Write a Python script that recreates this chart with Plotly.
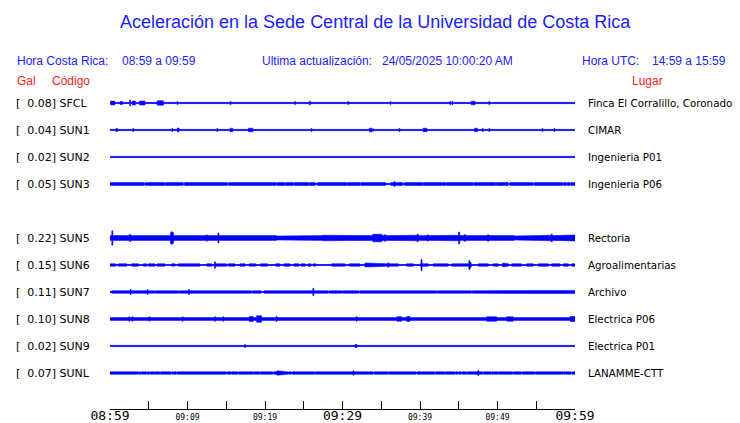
import numpy as np
import plotly.graph_objects as go

# ---------------- data ----------------
TITLE = "Aceleración en la Sede Central de la Universidad de Costa Rica"
CODES = ["SFCL", "SUN1", "SUN2", "SUN3", "SUN5", "SUN6", "SUN7", "SUN8", "SUN9", "SUNL"]
GAL = [0.08, 0.04, 0.02, 0.05, 0.22, 0.15, 0.11, 0.10, 0.02, 0.07]
PLACES = ["Finca El Corralillo, Coronado", "CIMAR", "Ingenieria P01", "Ingenieria P06",
          "Rectoria", "Agroalimentarias", "Archivo", "Electrica P06", "Electrica P01", "LANAMME-CTT"]
ROW_SLOT = [0, 1, 2, 3, 5, 6, 7, 8, 9, 10]

TICK_MINUTES = [0, 5, 10, 15, 20, 25, 30, 35, 40, 45, 50, 55, 60]
TICK_LABELS = ["08:59", "", "09:09", "", "09:19", "", "09:29", "", "09:39", "", "09:49", "", "09:59"]
BIG_TICKS = ["08:59", "09:29", "09:59"]

# background half-amplitude of each trace (px)
BASE = [0.6, 0.6, 0.6, 1.6, 2.4, 0.5, 1.3, 1.4, 0.6, 1.3]

# envelope segments: (start min, end min, half amplitude)
SFCL_SEG = [(0.1, 0.6, 2.0), (1.3, 1.6, 1.5), (2.9, 3.3, 2.0), (3.8, 4.5, 2.0), (6.1, 6.9, 2.2),
            (25.7, 25.9, 1.8), (46.6, 47.1, 1.8)]
SFCL_SPK = [(2.6, 3.0), (3.45, 1.2), (4.85, 1.0), (7.1, 1.3), (7.55, 1.3), (8.7, 1.5), (15.55, 1.5),
            (23.9, 1.5), (26.75, 1.0), (30.75, 1.5), (35.15, 1.0), (36.2, 1.5), (43.9, 1.5),
            (44.2, 1.5), (47.35, 1.0), (48.2, 1.0), (48.95, 1.5)]

SUN1_SEG = [(0.75, 1.0, 1.5), (8.7, 8.9, 2.0), (15.5, 15.85, 1.8), (17.85, 18.45, 1.8),
            (33.45, 33.8, 1.8), (40.4, 40.9, 1.8), (47.05, 47.4, 1.8)]
SUN1_SPK = [(0.13, 1.3), (1.6, 1.0), (2.25, 1.2), (3.0, 1.5), (8.05, 1.5), (12.45, 1.0),
            (13.45, 1.0), (13.85, 1.5), (16.7, 1.0), (21.35, 1.0), (25.6, 1.0), (26.0, 1.5),
            (33.9, 1.5), (37.35, 1.5), (48.1, 1.5), (48.95, 1.5), (55.8, 1.5), (56.2, 1.0), (57.35, 1.5)]

SUN2_SEG = [(0.72, 0.8, 1.3), (1.0, 1.08, 1.3)]
SUN2_SPK = []

SUN3_SEG = [(4.4, 4.5, 0.5), (7.05, 7.15, 0.5), (9.45, 9.6, 0.5), (15.15, 15.3, 0.5),
            (21.45, 21.55, 0.5), (22.55, 22.65, 0.5), (23.65, 23.75, 0.5), (25.65, 25.75, 0.5),
            (26.5, 26.75, 0.5), (30.55, 30.65, 0.5), (32.25, 32.35, 0.5), (35.6, 36.2, 0.5),
            (37.8, 38.0, 0.5), (40.35, 40.45, 0.5), (43.35, 43.45, 0.5), (46.85, 46.95, 0.5),
            (49.75, 49.85, 0.5), (51.4, 51.6, 0.5), (54.6, 54.7, 0.5), (58.45, 58.55, 0.5),
            (58.9, 59.0, 0.5), (59.4, 59.5, 0.5)]
SUN3_SPK = [(12.35, 2.2), (17.9, 2.2), (36.7, 2.5)]

SUN5_SEG = [(2.5, 2.7, 3.4), (6.3, 7.0, 3.0), (7.8, 8.2, 5.5), (8.6, 11.0, 3.0), (17.2, 18.3, 3.0),
            (20.4, 20.9, 3.0), (21.5, 25.1, 2.0), (25.2, 27.3, 1.7), (27.5, 28.0, 2.8),
            (29.5, 33.7, 2.3), (33.9, 35.1, 3.8), (35.4, 35.6, 3.2), (36.7, 39.8, 2.8),
            (42.3, 45.0, 2.8), (45.7, 45.9, 3.2), (48.7, 48.9, 3.2), (52.2, 54.8, 2.1),
            (55.2, 57.0, 2.8), (58.7, 60.0, 3.0)]
SUN5_SPK = [(0.3, 7.3), (7.95, 6.3), (13.98, 5.0), (39.7, 4.0), (45.05, 6.0), (57.0, 4.0), (1.5, 3.0),
            (4.6, 3.0), (12.5, 3.2), (16.0, 3.0), (41.0, 3.2), (50.8, 3.0), (34.3, 4.5)]

SUN6_SEG = [(0.0, 0.73, 1.3), (1.08, 2.15, 1.3), (2.8, 3.66, 1.3), (4.3, 4.73, 1.3), (4.95, 5.8, 1.3),
            (6.1, 7.1, 1.3), (7.96, 8.39, 1.3), (8.82, 11.6, 1.3), (12.47, 13.12, 1.3),
            (13.55, 15.05, 1.3), (15.27, 16.13, 1.3), (16.77, 17.42, 1.3), (17.98, 18.8, 1.3),
            (19.44, 20.3, 1.3), (21.38, 21.94, 1.3), (22.45, 23.23, 1.3), (23.74, 24.39, 1.3),
            (24.65, 25.16, 1.3), (25.59, 25.94, 1.3), (26.24, 26.54, 1.3), (28.6, 30.32, 1.3),
            (30.88, 32.26, 1.3), (32.9, 37.2, 1.3), (38.28, 39.14, 1.3), (40.0, 41.08, 1.3),
            (41.72, 43.66, 1.3), (44.09, 46.24, 1.3), (47.53, 48.82, 1.3), (49.46, 50.11, 1.3),
            (50.75, 51.4, 1.3), (51.83, 53.12, 1.3), (53.76, 54.62, 1.3), (55.27, 56.56, 1.3),
            (56.99, 58.06, 1.3), (58.49, 59.14, 1.3), (59.57, 60.0, 1.3), (32.9, 33.4, 2.0),
            (46.3, 46.6, 2.5)]
SUN6_SPK = [(13.55, 3.3), (40.2, 5.7), (46.37, 4.5), (35.9, 2.3), (50.75, 2.0), (27.3, 1.0), (27.7, 1.0)]

SUN7_SEG = [(0.0, 0.2, 0.5), (5.75, 5.85, 0.5), (8.85, 8.95, 0.5), (18.25, 18.4, 0.5),
            (19.5, 19.9, 0.5), (28.15, 28.25, 0.5), (29.95, 30.05, 0.5), (32.15, 32.25, 0.5),
            (42.15, 42.25, 0.5), (46.65, 46.75, 0.5), (50.5, 60.0, 1.6)]
SUN7_SPK = [(2.67, 2.7), (4.86, 2.5), (10.19, 2.5), (14.19, 1.8), (26.24, 3.8), (33.76, 2.0),
            (35.83, 2.0), (41.42, 2.0), (43.87, 1.8), (48.73, 1.8), (55.05, 1.7), (56.77, 1.7)]

SUN8_SEG = [(17.98, 18.49, 2.5), (18.92, 19.57, 3.3), (36.99, 37.63, 2.3), (38.28, 38.71, 2.5),
            (48.17, 48.4, 2.0), (48.6, 49.89, 2.3), (51.18, 52.04, 2.3), (59.35, 60.0, 2.5)]
SUN8_SPK = [(0.22, 2.0), (1.16, 2.0), (2.45, 2.3), (2.88, 2.3), (3.31, 2.0), (5.08, 2.3), (8.17, 2.0),
            (9.38, 2.3), (10.97, 2.0), (11.4, 2.0), (12.26, 2.0), (12.69, 2.0), (13.55, 2.3),
            (13.98, 2.0), (14.62, 2.3), (15.14, 2.0), (20.22, 2.0), (21.5, 2.5), (22.15, 2.0),
            (23.96, 2.0), (27.31, 2.0), (28.17, 2.0), (28.6, 2.0), (31.83, 2.3), (35.4, 2.0),
            (36.13, 2.0), (39.66, 2.0), (40.65, 2.0), (41.08, 2.0), (41.51, 2.0), (41.94, 2.0),
            (43.78, 2.0), (46.24, 2.0), (46.88, 2.0), (47.74, 2.0), (52.56, 2.0), (54.62, 2.0),
            (56.43, 2.0)]

SUN9_SEG = [(31.61, 31.9, 1.5)]
SUN9_SPK = [(12.34, 1.0), (17.42, 1.5), (21.5, 1.0)]

SUNL_SEG = [(3.6, 3.7, 0.5), (3.95, 4.05, 0.5), (4.7, 4.8, 0.5), (5.1, 5.2, 0.5), (5.75, 5.85, 0.5),
            (6.4, 6.5, 0.5), (7.9, 8.0, 0.5), (8.55, 8.65, 0.5), (15.0, 15.1, 0.5), (15.65, 15.75, 0.5),
            (16.5, 16.6, 0.5), (18.45, 18.55, 0.5), (19.3, 19.4, 0.5), (21.0, 21.1, 0.5),
            (21.38, 22.58, 1.6), (22.95, 23.05, 0.5), (23.4, 23.5, 0.5), (26.4, 26.5, 0.5),
            (33.95, 34.05, 0.5), (35.85, 35.95, 0.5), (39.5, 39.6, 0.5), (41.9, 42.0, 0.5),
            (43.2, 43.3, 0.5), (44.5, 44.6, 0.5), (44.9, 45.0, 0.5), (45.35, 45.45, 0.5),
            (46.0, 46.1, 0.5), (48.1, 48.2, 0.5), (49.2, 49.3, 0.5), (50.05, 50.15, 0.5),
            (52.0, 52.1, 0.5), (53.1, 53.2, 0.5), (54.8, 54.9, 0.5), (58.45, 58.55, 0.5),
            (59.5, 59.6, 0.5)]
SUNL_SPK = [(10.32, 2.0), (21.6, 2.2), (31.4, 2.2), (42.8, 2.0), (47.53, 2.5), (57.42, 2.0), (59.9, 2.0)]

SEGMENTS = [SFCL_SEG, SUN1_SEG, SUN2_SEG, SUN3_SEG, SUN5_SEG, SUN6_SEG, SUN7_SEG, SUN8_SEG, SUN9_SEG, SUNL_SEG]
SPIKES = [SFCL_SPK, SUN1_SPK, SUN2_SPK, SUN3_SPK, SUN5_SPK, SUN6_SPK, SUN7_SPK, SUN8_SPK, SUN9_SPK, SUNL_SPK]

# ---------------- layout constants (pixels) ----------------
W, H = 740, 423
L, R, T, B = 110, 575, 90, 409
ROW0, ROW_STEP = 103, 27
BLUE = "#0000ff"
TXT_BLUE = "#1c1cff"
RED = "#ff1c1c"
SPIKE_HALF_WIDTH = 0.07


def px2x(px):
    return (px - L) / (R - L)


def py2y(py):
    return (B - py) / (B - T)


grid = np.arange(0, 60.0001, 0.02)
fig = go.Figure()

for i, code in enumerate(CODES):
    y0 = B - (ROW0 + ROW_STEP * ROW_SLOT[i])
    env = np.full_like(grid, BASE[i])
    for t0, t1, a in SEGMENTS[i]:
        env[(grid >= t0) & (grid <= t1)] = a
    for t, a in SPIKES[i]:
        m = (grid >= t - SPIKE_HALF_WIDTH) & (grid <= t + SPIKE_HALF_WIDTH)
        env[m] = np.maximum(env[m], a)
    fig.add_trace(go.Scatter(x=grid, y=y0 + env, mode="lines",
                             line=dict(color=BLUE, width=0.5), hoverinfo="skip"))
    fig.add_trace(go.Scatter(x=grid, y=y0 - env, mode="lines", fill="tonexty",
                             fillcolor=BLUE, line=dict(color=BLUE, width=0.5), hoverinfo="skip"))
    fig.add_trace(go.Scatter(x=[0, 60], y=[y0, y0], mode="lines",
                             line=dict(color=BLUE, width=1), hoverinfo="skip"))

ticktext = [f"<span style='font-size:13px'>{t}</span>" if t in BIG_TICKS else t for t in TICK_LABELS]

annotations = []


def add_text(text, px, py, size, color, family="Liberation Sans", anchor="left"):
    annotations.append(dict(text=text, x=px2x(px), y=py2y(py), xref="paper", yref="paper",
                            xanchor=anchor, yanchor="middle", showarrow=False,
                            font=dict(size=size, color=color, family=family)))


add_text(TITLE, 375, 22, 18, TXT_BLUE, anchor="center")
add_text("Hora Costa Rica:", 15, 61, 12, TXT_BLUE)
add_text("08:59 a 09:59", 120, 61, 12, TXT_BLUE)
add_text("Ultima actualización:", 260, 61, 12, TXT_BLUE)
add_text("24/05/2025 10:00:20 AM", 380, 61, 12, TXT_BLUE)
add_text("Hora UTC:", 580, 61, 12, TXT_BLUE)
add_text("14:59 a 15:59", 650, 61, 12, TXT_BLUE)
add_text("Gal", 15, 81, 12, RED)
add_text("Código", 50, 81, 12, RED)
add_text("Lugar", 630, 81, 12, RED)

for i, code in enumerate(CODES):
    py = ROW0 + ROW_STEP * ROW_SLOT[i]
    add_text("[\u00a0\u00a0" + f"{GAL[i]:.2f}] {code}", 14, py, 11, "black", family="DejaVu Sans")
    add_text(PLACES[i], 586, py, 10.3, "black", family="DejaVu Sans")

fig.update_layout(
    width=W, height=H, autosize=False,
    margin=dict(l=L, r=W - R, t=T, b=H - B, pad=0, autoexpand=False),
    paper_bgcolor="white", plot_bgcolor="white",
    showlegend=False,
    annotations=annotations,
    xaxis=dict(range=[0, 60], tickvals=TICK_MINUTES, ticktext=ticktext, automargin=False,
               ticks="inside", ticklen=8, tickwidth=1, tickcolor="black",
               showline=True, linecolor="black", linewidth=1,
               showgrid=False, zeroline=False, fixedrange=True,
               tickfont=dict(family="DejaVu Sans Mono", size=8, color="black")),
    yaxis=dict(range=[0, B - T], visible=False, automargin=False, showgrid=False,
               zeroline=False, fixedrange=True),
)

fig.write_html("out.html", config={"displayModeBar": False},
               post_script="document.body.style.margin='0';document.body.style.overflow='hidden';")
